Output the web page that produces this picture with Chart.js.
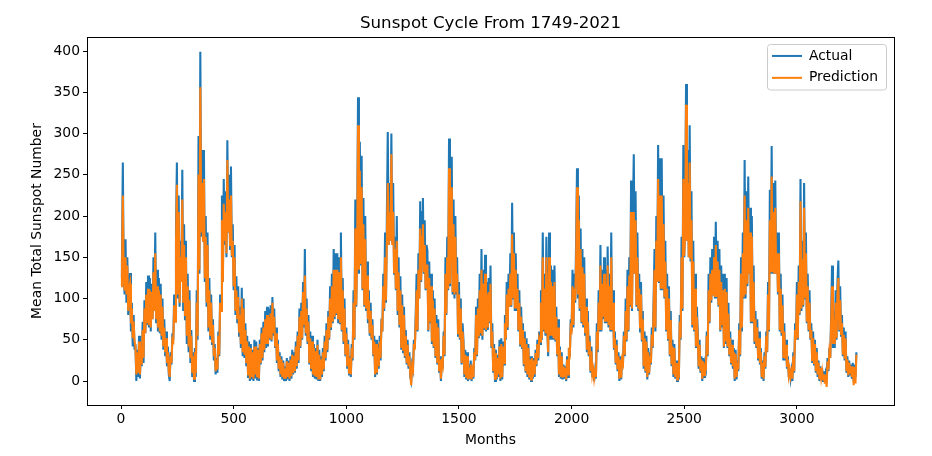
<!DOCTYPE html>
<html><head><meta charset="utf-8">
<script src="https://cdn.jsdelivr.net/npm/chart.js@4"></script>
<style>html,body{margin:0;padding:0;background:#fff}canvas{display:block}</style>
</head><body><canvas id="c" width="932" height="456"></canvas>
<script>
const sampleStep = 4; // months between the values
const xTicks = [0,500,1000,1500,2000,2500,3000];
const yTicks = [0,50,100,150,200,250,300,350,400];
const actual = [
125,140,265,130,105,172,95,150,80,120,131,60,95,42,80,38,45,0,38,5,
55,3,45,18,72,22,98,58,120,68,128,65,125,60,118,75,150,85,180,70,
135,60,125,58,118,50,100,38,75,30,60,18,42,8,0,35,20,58,50,105,
75,185,265,100,225,90,170,120,256,85,190,75,170,45,130,35,110,22,62,5,
35,0,40,5,110,50,297,130,399,175,280,170,280,120,200,90,180,60,125,50,
105,45,75,25,45,8,28,10,60,30,105,85,225,120,245,165,230,150,292,180,
250,160,260,150,190,110,165,80,127,70,115,55,90,40,113,30,100,28,70,18,
55,5,48,0,45,2,38,0,50,3,48,2,40,0,50,20,65,25,72,35,
85,40,90,42,88,50,92,48,102,55,88,40,65,22,50,12,35,5,30,2,
25,0,18,0,28,2,25,0,30,3,38,8,35,10,48,15,60,22,88,40,
95,50,120,65,160,55,100,45,80,20,60,12,55,5,45,3,40,2,50,0,
38,0,30,5,40,12,55,25,70,35,85,50,115,62,130,70,160,75,155,80,
155,70,150,70,180,60,125,45,100,30,65,15,50,8,30,5,45,25,110,50,
220,90,175,344,130,290,140,273,110,222,90,200,85,145,70,110,55,95,50,75,
30,55,5,50,8,45,15,55,25,75,60,130,85,180,95,200,302,165,240,170,
300,167,240,130,175,110,200,80,150,65,127,38,105,35,90,28,62,20,50,15,
35,5,0,20,15,50,40,80,130,60,155,100,218,120,205,222,130,195,110,165,
158,60,145,70,130,45,110,40,100,28,80,20,75,10,30,0,25,15,60,30,
150,80,175,110,294,115,250,272,105,220,100,200,105,150,55,120,50,100,20,70,
50,5,38,2,35,0,20,2,25,0,15,3,40,25,90,30,100,52,130,55,
160,50,135,62,153,60,120,62,125,70,140,40,70,10,45,0,38,2,32,5,
50,0,52,2,48,20,80,50,120,62,130,90,155,90,216,100,180,85,155,85,
130,60,110,42,90,40,70,18,60,10,52,5,45,2,30,0,30,3,28,5,
38,18,50,25,60,45,110,50,180,60,130,55,175,65,30,180,50,140,50,135,
50,140,48,90,30,75,5,42,3,35,2,20,3,18,0,30,5,40,30,75,
60,135,65,130,95,170,258,100,225,85,185,70,160,65,150,55,100,35,85,30,
55,10,42,5,15,0,12,3,70,35,110,60,165,60,135,75,150,70,135,70,
163,65,130,60,180,60,110,38,60,20,50,12,35,0,30,2,30,20,60,30,
100,48,135,60,150,90,243,85,200,275,130,230,90,180,85,130,60,120,48,85,
15,60,10,55,2,40,8,35,20,65,40,100,160,60,200,120,286,120,270,110,
270,110,225,100,170,60,130,50,115,30,85,18,50,5,45,3,25,0,25,2,
80,50,175,85,286,150,200,360,170,280,150,310,145,230,65,170,60,130,40,90,
60,15,50,10,30,0,28,5,20,15,60,30,130,70,150,95,160,105,175,100,
193,100,170,90,160,60,140,65,130,40,130,45,125,40,95,30,60,20,50,15,
40,0,38,2,25,12,70,30,150,60,180,100,268,100,230,115,248,130,210,70,
200,70,140,45,85,40,75,25,60,20,40,3,25,0,35,15,60,35,120,60,
232,130,285,130,240,130,243,130,180,105,180,60,130,55,105,25,70,25,50,15,
30,5,15,3,12,0,35,10,70,50,120,50,140,80,245,85,170,90,240,100,
180,70,130,60,110,50,70,22,60,20,50,10,40,5,25,0,18,2,15,0,
12,0,10,5,28,12,40,28,80,140,40,85,40,110,50,120,146,60,115,55,
80,30,65,25,60,10,30,5,25,8,20,3,22,0,20,5,35
];
const prediction = [
115,125,225,125,110,150,105,140,85,112,118,70,88,52,72,48,42,8,35,10,
48,8,40,20,62,28,88,58,105,70,112,68,110,65,108,75,132,85,155,75,
115,65,110,60,105,55,90,42,65,35,52,22,35,12,5,30,22,50,48,92,
72,165,238,105,205,95,150,120,220,95,165,80,150,55,115,42,98,28,55,10,
30,3,35,10,95,55,250,135,356,180,240,170,245,125,175,95,165,65,110,55,
95,48,68,30,40,12,25,14,55,32,95,85,195,120,215,170,205,155,268,180,
220,165,225,152,170,115,150,85,110,75,102,60,80,45,100,35,88,32,62,22,
48,8,42,3,40,5,35,3,42,8,42,6,38,3,45,22,58,28,65,38,
75,45,80,45,78,52,82,50,95,58,78,42,58,25,45,15,30,8,26,5,
22,3,15,3,24,5,22,3,26,6,32,10,30,12,42,18,55,25,78,42,
85,52,108,68,128,58,88,48,72,22,52,15,48,8,40,6,36,5,44,2,
32,2,26,8,35,14,48,28,62,38,78,52,100,65,115,72,135,78,135,82,
135,75,132,72,150,62,110,48,88,32,58,18,45,10,28,8,40,28,95,52,
185,92,155,310,135,255,142,235,112,190,92,172,88,128,75,98,58,85,52,68,
32,48,8,45,10,40,18,48,28,66,60,115,88,150,98,170,240,165,205,170,
275,165,205,132,160,112,170,85,132,68,110,40,92,38,80,30,55,22,44,18,
30,8,-5,18,14,45,38,72,110,62,135,100,185,122,175,190,132,165,112,140,
140,62,125,72,115,48,98,42,88,30,70,22,65,12,26,3,22,18,55,32,
130,82,150,112,258,118,215,235,108,190,105,175,108,130,58,105,52,88,22,60,
45,8,32,4,30,2,16,3,20,2,12,5,35,26,80,32,88,54,110,58,
135,55,118,64,130,62,105,65,108,72,118,42,60,12,40,3,34,4,28,8,
42,3,45,5,42,22,70,52,105,65,112,90,130,92,178,102,155,88,135,88,
112,62,95,44,78,42,62,20,52,12,45,8,40,4,26,2,28,5,25,8,
34,20,45,28,52,48,95,52,150,62,112,58,150,68,35,150,55,120,55,115,
52,120,50,78,32,65,8,38,5,30,4,18,5,16,2,26,8,35,32,65,
62,115,68,112,98,145,235,105,195,88,160,72,138,68,130,58,90,38,72,32,
48,12,36,8,14,3,11,5,60,38,95,62,140,62,118,78,130,72,118,72,
140,68,115,62,150,62,95,40,52,22,44,14,30,3,26,4,26,22,55,32,
85,50,115,62,128,92,205,88,175,205,130,195,92,150,88,112,65,105,50,75,
18,52,12,48,5,35,10,30,22,56,42,88,135,65,170,120,245,122,225,112,
225,112,190,102,145,62,112,52,100,32,74,20,42,8,40,5,22,2,22,4,
72,52,150,88,245,152,180,335,170,240,150,265,148,195,68,145,62,112,42,78,
52,18,44,12,26,3,24,7,18,16,55,32,110,72,130,98,135,105,150,102,
165,102,145,92,135,62,120,68,110,42,112,48,108,42,82,32,52,22,44,18,
35,3,33,5,22,14,62,32,130,65,155,102,225,105,195,118,210,130,180,72,
175,72,120,48,75,42,65,27,52,22,35,5,22,3,30,17,55,36,105,62,
195,132,248,132,205,130,210,130,155,108,155,62,112,58,92,28,60,27,44,17,
26,7,14,5,11,3,30,12,62,50,105,52,120,82,218,88,148,92,210,102,
155,72,115,62,95,52,62,24,52,22,45,12,35,8,22,2,16,4,12,2,
8,-3,8,-7,24,14,35,28,70,115,45,75,45,95,52,105,125,62,98,57,
70,32,56,27,52,12,26,7,22,10,18,5,18,-5,17,-3,32
];
const months = actual.map((_, i) => i * sampleStep);
const pts = a => a.map((v, i) => ({x: months[i], y: v}));
const font = {family: '"DejaVu Sans"', size: 13.9};

const frame = {
  id: 'frame',
  afterLayout(ch) {
    const l = ch.legend;
    l.left = 764; l.right = 884; l.width = 120;
    l.top = 41; l.bottom = 200; l.height = 159;
  },
  afterDraw(ch) {
    const a = ch.chartArea, c = ch.ctx;
    c.save();
    c.strokeStyle = '#000'; c.lineWidth = 1;
    c.strokeRect(Math.round(a.left) + .5, Math.round(a.top) + .5,
                 Math.round(a.right - a.left), Math.round(a.bottom - a.top));
    c.strokeStyle = '#cccccc';
    c.beginPath();
    c.roundRect(767.5, 44.5, 119, 45.5, 3);
    c.stroke();
    c.restore();
  }
};

new Chart(document.getElementById('c'), {
  type: 'line',
  data: { datasets: [
    {label: 'Actual', data: pts(actual), order: 2, borderColor: '#1f77b4', backgroundColor: '#1f77b4', borderWidth: 2.08, pointRadius: 0, tension: 0, borderJoinStyle: 'miter'},
    {label: 'Prediction', data: pts(prediction), order: 1, borderColor: '#ff7f0e', backgroundColor: '#ff7f0e', borderWidth: 2.08, pointRadius: 0, tension: 0, borderJoinStyle: 'miter'}
  ]},
  options: {
    responsive: false, animation: false, devicePixelRatio: 1,
    layout: {padding: {left: 0, right: 38, top: 0, bottom: 0}},
    plugins: {
      tooltip: {enabled: false},
      title: {display: true, fullSize: false, text: 'Sunspot Cycle From 1749-2021', color: '#000',
              font: {family: '"DejaVu Sans"', size: 16.67, weight: 'normal'},
              padding: {top: 14, bottom: 3}},
      legend: {position: 'chartArea', align: 'start',
        labels: {color: '#000', font, boxWidth: 30, boxHeight: 2, padding: 8,
          sort: (a, b) => a.datasetIndex - b.datasetIndex,
          generateLabels: ch => Chart.defaults.plugins.legend.labels.generateLabels(ch)
            .map(o => ({...o, lineWidth: 0}))}}
    },
    scales: {
      x: {type: 'linear', min: -151, max: 3431,
        afterBuildTicks: s => { s.ticks = xTicks.map(v => ({value: v})); },
        afterFit: s => { s.height = 51; },
        border: {color: '#000', width: 1},
        grid: {drawOnChartArea: false, color: '#000', tickLength: 4, tickWidth: 1},
        title: {display: true, text: 'Months', color: '#000', font, padding: {top: 2, bottom: 7}},
        ticks: {color: '#000', font, maxRotation: 0, padding: 2, callback: v => String(v)}},
      y: {min: -29, max: 417,
        afterBuildTicks: s => { s.ticks = yTicks.map(v => ({value: v})); },
        afterFit: s => { s.width = 87; },
        border: {color: '#000', width: 1},
        grid: {drawOnChartArea: false, color: '#000', tickLength: 4, tickWidth: 1},
        title: {display: true, text: 'Mean Total Sunspot Number', color: '#000', font, padding: {top: 29, bottom: 3}},
        ticks: {color: '#000', font, padding: 3, callback: v => String(v)}}
    }
  },
  plugins: [frame]
});
</script></body></html>
